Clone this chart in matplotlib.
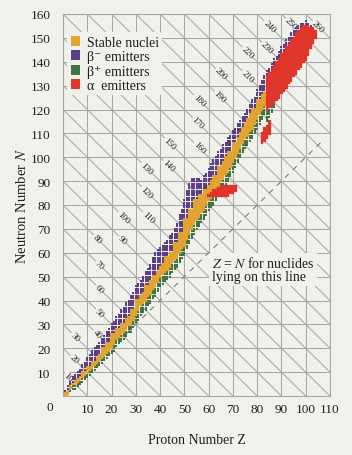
import matplotlib
matplotlib.use('Agg')
import matplotlib.pyplot as plt
from matplotlib.patches import Patch

# ---------------- data ----------------
# light / medium nuclei, Z = 1 .. 83 : N ranges per proton number
Z_light = list(range(1, 84))
green_lo = [0, 1, 2, 3, 3, 4, 5, 6, 7, 8, 9, 10, 11, 12, 13, 14, 15, 16, 17, 18,
            19, 21, 22, 23, 24, 25, 27, 27, 29, 31, 32, 34, 35, 36, 38, 39, 41, 42, 44, 46,
            47, 48, 49, 50, 52, 53, 54, 56, 58, 59, 62, 64, 66, 68, 70, 71, 73, 74, 76, 78,
            79, 80, 82, 84, 86, 87, 89, 90, 92, 94, 96, 98, 100, 102, 104, 105, 107, 108, 110, 112,
            114, 116, 118]
stable_lo = [0, 1, 3, 5, 5, 6, 7, 8, 9, 10, 11, 12, 13, 14, 15, 16, 17, 18, 19, 20,
             22, 24, 25, 26, 27, 28, 30, 30, 32, 34, 36, 38, 39, 40, 42, 43, 45, 46, 48, 50,
             51, 52, 53, 54, 56, 57, 58, 60, 62, 63, 66, 68, 70, 72, 74, 75, 77, 78, 80, 82,
             83, 84, 86, 88, 90, 91, 93, 94, 96, 98, 100, 102, 104, 106, 108, 109, 111, 112, 114, 116,
             118, 120, 122]
stable_hi = [1, 2, 4, 5, 6, 7, 8, 10, 10, 12, 12, 14, 14, 16, 17, 20, 20, 22, 22, 26,
             26, 28, 28, 30, 30, 32, 33, 36, 36, 40, 40, 42, 43, 46, 46, 48, 50, 50, 52, 54,
             55, 58, 58, 60, 60, 64, 64, 68, 68, 74, 74, 78, 78, 82, 82, 84, 84, 86, 86, 88,
             90, 92, 92, 96, 96, 98, 100, 102, 102, 106, 106, 108, 110, 112, 114, 116, 118, 120, 120, 124,
             124, 126, 127]
purple_hi = [2, 4, 6, 8, 9, 10, 11, 13, 14, 16, 17, 19, 20, 21, 22, 24, 25, 27, 28, 30,
             31, 33, 34, 36, 37, 39, 40, 42, 43, 46, 47, 48, 50, 52, 53, 55, 58, 60, 61, 62,
             63, 64, 65, 67, 68, 70, 72, 76, 78, 82, 86, 89, 91, 91, 91, 91, 90, 92, 93, 95,
             97, 99, 100, 102, 103, 105, 106, 108, 109, 111, 112, 114, 115, 117, 118, 120, 122, 124, 125, 128,
             130, 132, 134]

# heavy nuclei, Z = 84 .. 104
Z_heavy = list(range(84, 105))
heavy_green_lo = [115, 117, 119, 121, 124, 125, 127, 128, 129, 131, 132, 134, 135, 137, 138, 140,
                  141, 143, 146, 148, 150]
heavy_alpha_lo = [120, 121, 122, 123, 124, 125, 127, 128, 129, 131, 132, 134, 135, 137, 138, 140,
                  141, 143, 146, 148, 150]
heavy_alpha_hi = [134, 135, 137, 138, 140, 141, 143, 144, 146, 147, 149, 150, 152, 153, 154, 155,
                  155, 155, 154, 154, 153]
heavy_purple_hi = [136, 137, 139, 141, 142, 144, 146, 147, 149, 150, 152, 153, 154, 155, 156, 156,
                   157, 156, 155, 154, 153]

# extra alpha emitters on the proton-rich side
alpha_Z = [60, 61, 62, 63, 64, 65, 66, 67, 68, 69, 70, 71, 82, 83, 84, 85]
alpha_lo = [84, 84, 84, 84, 84, 84, 84, 84, 84, 85, 85, 86, 106, 107, 108, 110]
alpha_hi = [84, 85, 86, 86, 87, 88, 88, 88, 88, 88, 88, 88, 110, 112, 113, 115]

mass_numbers = list(range(10, 261, 10))
x_ticks = list(range(10, 111, 10))
y_ticks = list(range(10, 161, 10))

legend_labels = ['Stable nuclei', 'β⁻ emitters', 'β⁺ emitters', 'α  emitters']

# ---------------- style ----------------
BG = '#f1f1ec'
GRID = '#a8a8a8'
C_STABLE = '#e2a431'
C_BMINUS = '#5c3f88'
C_BPLUS = '#3f7344'
C_ALPHA = '#e0352a'
TXT = '#1e1e1e'
SERIF = ['Liberation Serif', 'DejaVu Serif']

plt.rcParams['font.family'] = SERIF
plt.rcParams['mathtext.fontset'] = 'stix'

fig = plt.figure(figsize=(3.52, 4.56), dpi=100, facecolor=BG)
ax = fig.add_axes([63 / 352, 1 - 397 / 456, 267 / 352, 382 / 456])
ax.set_facecolor(BG)
ax.set_xlim(0, 110)
ax.set_ylim(0, 160)

# grid: vertical, horizontal, and constant-A diagonals
for x in range(0, 111, 10):
    ax.plot([x, x], [0, 160], color=GRID, lw=0.75, zorder=1)
for y in range(0, 161, 10):
    ax.plot([0, 110], [y, y], color=GRID, lw=0.75, zorder=1)
for A in mass_numbers + [270]:
    z0, n0 = max(0, A - 160), min(A, 160)
    z1, n1 = min(A, 110), max(0, A - 110)
    if z1 > z0:
        ax.plot([z0, z1], [n0, n1], color=GRID, lw=0.75, zorder=1)

# Z = N dashed line
ax.plot([0, 107], [0, 107], color='#7a7a7a', lw=0.8, ls=(0, (5, 5)), zorder=1.5)

# diagonal mass-number labels (position along each line)
label_pos = {10: 2, 20: 4.5, 30: 5, 40: 14, 50: 15, 60: 15, 70: 15, 80: 14, 90: 24.5,
             100: 25, 110: 35, 120: 34.5, 130: 34.5, 140: 43.5, 150: 44, 160: 56,
             170: 55.5, 180: 56, 190: 64.5, 200: 65, 210: 76, 220: 76, 230: 84,
             240: 85, 250: 94, 260: 105}
for A in mass_numbers:
    z = label_pos[A]
    ax.text(z, A - z, str(A), rotation=-45, ha='center', va='center', fontsize=6.5,
            color=TXT, zorder=2,
            bbox=dict(boxstyle='square,pad=0.05', fc=BG, ec='none'))

px_per_unit = 267 / 110
cell_pt = px_per_unit * 72 / 100


def col(zs, lo, hi, color, zo=3):
    for z, a, b in zip(zs, lo, hi):
        if b >= a:
            ax.bar(z, b - a + 1, bottom=a - 0.5, width=1.0, color=color,
                   edgecolor=color, linewidth=0.2, zorder=zo)


def dots(zs, lo, hi, color, zo=3):
    xs, ys = [], []
    for z, a, b in zip(zs, lo, hi):
        for n in range(a, b + 1):
            xs.append(z)
            ys.append(n)
    ax.scatter(xs, ys, marker='s', s=(cell_pt * 0.85) ** 2, color=color,
               linewidths=0, zorder=zo)


dots(Z_light, green_lo, [s - 1 for s in stable_lo], C_BPLUS)
col(Z_light, stable_lo, stable_hi, C_STABLE)
dots(Z_light, [s + 1 for s in stable_hi], purple_hi, C_BMINUS)
dots(Z_heavy, heavy_green_lo, [a - 1 for a in heavy_alpha_lo], C_BPLUS)
col(Z_heavy, heavy_alpha_lo, heavy_alpha_hi, C_ALPHA)
dots(Z_heavy, [a + 1 for a in heavy_alpha_hi], heavy_purple_hi, C_BMINUS)
col(alpha_Z, alpha_lo, alpha_hi, C_ALPHA, zo=4)

# annotation
ax.text(61.3, 53, '$Z$ = $N$ for nuclides\nlying on this line', fontsize=10,
        ha='left', va='center', color=TXT, linespacing=1.0, zorder=5,
        bbox=dict(boxstyle='square,pad=0.2', fc=BG, ec='none'))

# legend
handles = [Patch(fc=c, ec='none') for c in (C_STABLE, C_BMINUS, C_BPLUS, C_ALPHA)]
leg = ax.legend(handles, legend_labels, loc='upper left', bbox_to_anchor=(0.0, 0.963),
                frameon=True, facecolor=BG, edgecolor='none', framealpha=1,
                fontsize=10, handlelength=0.7, handleheight=0.7, handletextpad=0.45,
                labelspacing=0.1, borderpad=0.25, borderaxespad=0.3)
for t in leg.get_texts():
    t.set_color(TXT)
leg.set_zorder(6)

# axes
ax.set_xticks(x_ticks)
ax.set_yticks(y_ticks)
ax.set_xticklabels([str(v) for v in x_ticks], fontsize=9.5, color=TXT)
ax.set_yticklabels([str(v) for v in y_ticks], fontsize=9.5, color=TXT)
ax.tick_params(length=0, pad=5)
ax.tick_params(axis='y', pad=9)
for s in ax.spines.values():
    s.set_color(GRID)
    s.set_linewidth(0.8)
ax.annotate('0', xy=(0, 0), xytext=(-9.5, -8), textcoords='offset points',
            ha='center', va='center', fontsize=9.5, color=TXT, annotation_clip=False)
ax.set_xlabel('Proton Number Z', fontsize=10, color=TXT, labelpad=13)
ax.set_ylabel('Neutron Number $N$', fontsize=10.5, color=TXT, labelpad=1)

fig.savefig('out.png', dpi=100, facecolor=BG)
